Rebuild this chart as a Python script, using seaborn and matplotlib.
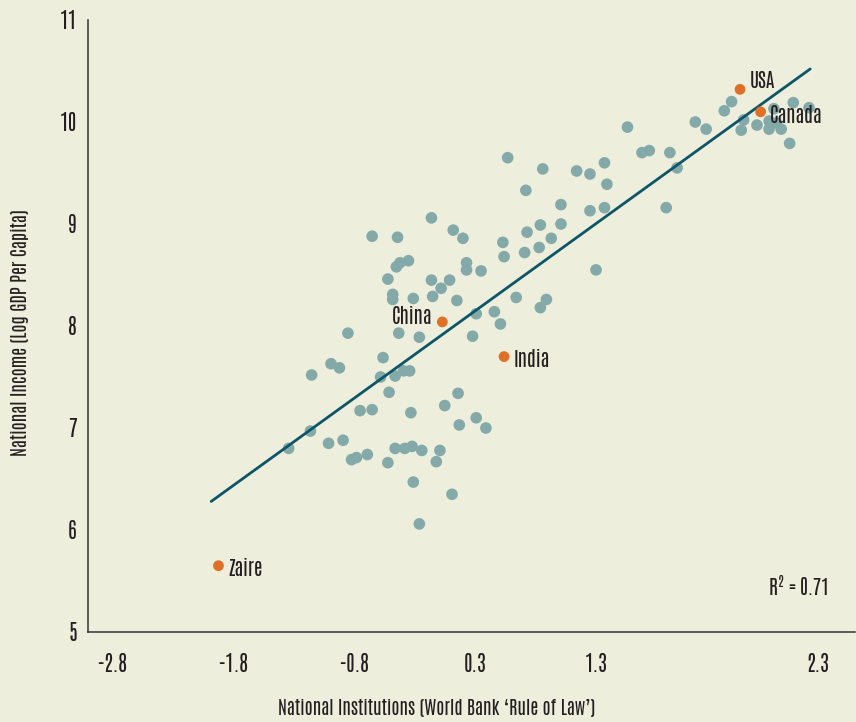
import matplotlib
matplotlib.use("Agg")
import matplotlib.pyplot as plt
import seaborn as sns
import pandas as pd

# Data (x: rule-of-law axis units, y: log GDP per capita)
others_x = [1.46, 1.27, 1.29, 1.27, 1.58, 1.64, 1.81, 1.87, 1.78, 2.02, 2.11, 2.26, 2.32,
            2.42, 2.40, 2.53, 2.63, 2.63, 2.67, 2.69, 2.73, 2.83, 2.80, 2.96,
            0.47, 0.76, 0.62, 1.04, 1.15, 0.91, 1.15, 0.02, 0.10, 0.43, 0.63, 0.74, 0.91,
            0.83, 0.73, 0.61, 0.44, 0.13, 0.13, 0.25, -0.01, -0.08, 0.05, 1.20, 0.54, 0.79,
            0.74, 0.21, 0.36, 0.41, 0.18,
            -0.16, -0.65, -0.44, -0.35, -0.42, -0.45, -0.52, -0.16, -0.48, -0.48, -0.31,
            -0.15, -0.85, -0.43, -0.26, -0.56, -0.99, -0.92,
            -1.15, -0.58, -0.46, -0.39, -0.34, -0.51, -0.75, -0.65, -0.33, -0.05, 0.06,
            0.07, 0.21, 0.29, -1.16, -1.34, -1.01, -0.89, -0.82, -0.78, -0.69, -0.46,
            -0.38, -0.32, -0.24, -0.52, -0.09, -0.12, -0.31, 0.01, -0.26]
others_y = [9.95, 9.60, 9.39, 9.16, 9.70, 9.72, 9.70, 9.55, 9.16, 10.00, 9.93, 10.11, 10.20,
            10.02, 9.92, 9.97, 10.01, 9.93, 10.13, 9.99, 9.93, 10.19, 9.79, 10.14,
            9.65, 9.54, 9.33, 9.52, 9.49, 9.19, 9.13, 8.94, 8.86, 8.82, 8.92, 8.99, 9.00,
            8.86, 8.77, 8.72, 8.68, 8.62, 8.55, 8.54, 8.45, 8.37, 8.25, 8.55, 8.28, 8.26,
            8.18, 8.12, 8.14, 8.02, 7.90,
            9.06, 8.88, 8.87, 8.64, 8.62, 8.58, 8.46, 8.45, 8.31, 8.26, 8.27,
            8.29, 7.93, 7.93, 7.89, 7.69, 7.63, 7.59,
            7.52, 7.50, 7.51, 7.56, 7.56, 7.35, 7.17, 7.18, 7.15, 7.22, 7.34,
            7.03, 7.10, 7.00, 6.97, 6.80, 6.85, 6.88, 6.69, 6.71, 6.74, 6.80,
            6.80, 6.82, 6.78, 6.66, 6.78, 6.67, 6.47, 6.35, 6.06]

hl_names = ["USA", "Canada", "China", "India", "Zaire"]
hl_x = [2.39, 2.56, -0.07, 0.44, -1.92]
hl_y = [10.32, 10.10, 8.04, 7.70, 5.65]

fit_x = [-1.98, 2.97]
fit_y = [6.28, 10.52]

xtick_pos = [-2.8, -1.8, -0.8, 0.2, 1.2, 3.03]
xtick_labels = ["-2.8", "-1.8", "-0.8", "0.3", "1.3", "2.3"]
ytick_pos = [5, 6, 7, 8, 9, 10, 11]

BG = "#EDEEDC"
TEAL = "#84A9A9"
ORANGE = "#E07025"
LINE = "#0D5568"
TXT = "#231F20"

sns.set_theme(style="white")
FONT = ["Antonio", "DejaVu Sans"]
plt.rcParams["font.family"] = FONT
plt.rcParams["mathtext.fontset"] = "custom"
plt.rcParams["mathtext.rm"] = "Antonio"

fig = plt.figure(figsize=(8.56, 7.22), dpi=100, facecolor=BG)
ax = fig.add_axes([88/856, 1 - 632/722, (855-88)/856, (632-20)/722])
ax.set_facecolor(BG)

df_o = pd.DataFrame({"x": others_x, "y": others_y})
df_h = pd.DataFrame({"x": hl_x, "y": hl_y, "name": hl_names})
df_f = pd.DataFrame({"x": fit_x, "y": fit_y})

sns.scatterplot(data=df_o, x="x", y="y", ax=ax, color=TEAL, s=70, edgecolor="none", zorder=2)
sns.lineplot(data=df_f, x="x", y="y", ax=ax, color=LINE, linewidth=2.0, zorder=3)
sns.scatterplot(data=df_h, x="x", y="y", ax=ax, color=ORANGE, s=60, edgecolor="none", zorder=4)

for n, x, y in zip(hl_names, hl_x, hl_y):
    if n == "China":
        ax.annotate(n, (x, y), xytext=(-7, 4), textcoords="offset points",
                    ha="right", va="center", fontsize=14, color=TXT)
    elif n == "USA":
        ax.annotate(n, (x, y), xytext=(7, 7), textcoords="offset points",
                    ha="left", va="center", fontsize=14, color=TXT)
    else:
        ax.annotate(n, (x, y), xytext=(7, -2), textcoords="offset points",
                    ha="left", va="center", fontsize=14, color=TXT)

ax.text(0.965, 0.075, "R$^2$ = 0.71", transform=ax.transAxes, ha="right", va="center",
        fontsize=14, color=TXT)

ax.set_xlim(-2.998, 3.34)
ax.set_ylim(5, 11)
ax.set_xticks(xtick_pos)
ax.set_xticklabels(xtick_labels)
ax.set_yticks(ytick_pos)
ax.tick_params(axis="x", length=0, pad=15, labelsize=15, colors=TXT)
ax.tick_params(axis="y", length=0, pad=8, labelsize=15, colors=TXT)
ax.set_xlabel("")
ax.set_ylabel("")

for s in ["top", "right"]:
    ax.spines[s].set_visible(False)
for s in ["left", "bottom"]:
    ax.spines[s].set_color("#333333")
    ax.spines[s].set_linewidth(1.1)

fig.text(437/856, 1 - 708/722, "National Institutions (World Bank \u2018Rule of Law\u2019)",
         ha="center", va="center", fontsize=13, color=TXT)
fig.text(20/856, 1 - 333/722, "National Income (Log GDP Per Capita)", rotation=90,
         ha="center", va="center", fontsize=13, color=TXT)

fig.savefig("out.png", dpi=100, facecolor=BG)
